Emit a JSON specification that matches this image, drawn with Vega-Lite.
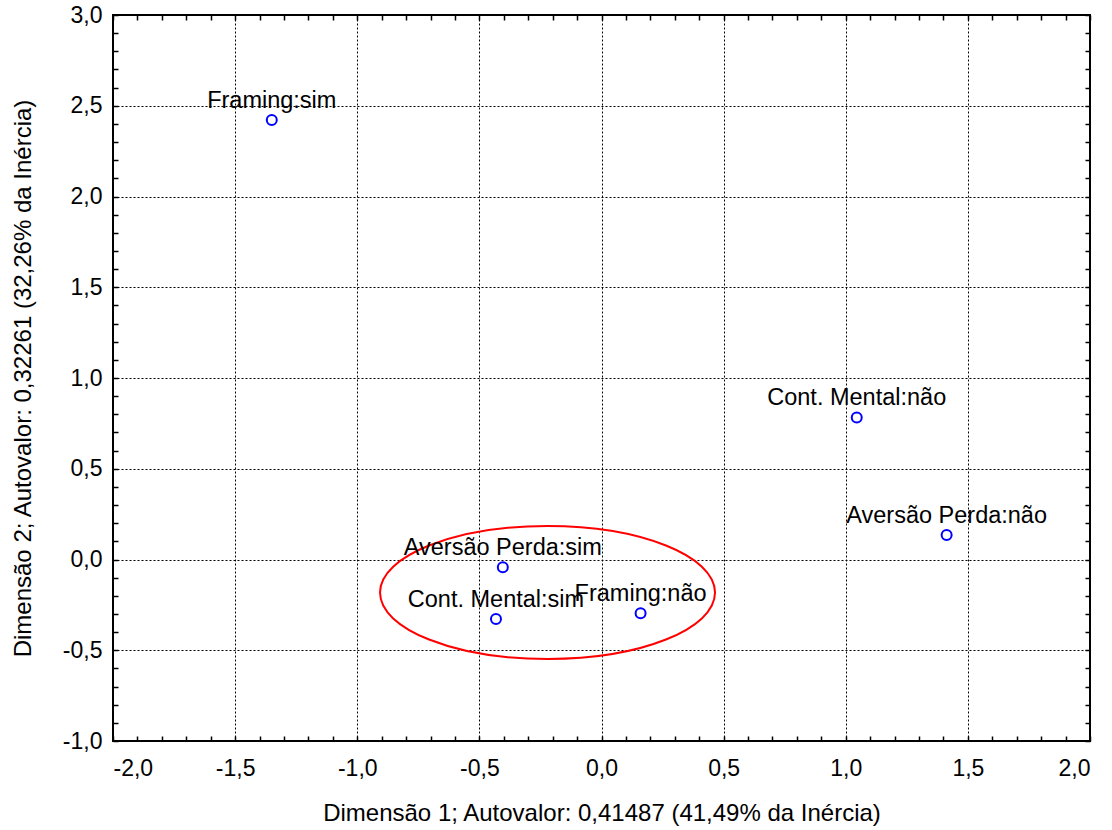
{
  "$schema": "https://vega.github.io/schema/vega-lite/v6.json",
  "width": 977,
  "height": 726,
  "autosize": {"type": "none"},
  "padding": {"left": 113, "top": 15, "right": 22, "bottom": 89},
  "config": {
    "locale": {"number": {"decimal": ",", "thousands": ".", "grouping": [3], "currency": ["", ""], "minus": "-"}},
    "view": {"stroke": "black", "strokeWidth": 2},
    "font": "Liberation Sans",
    "axis": {
      "domain": false,
      "labelFont": "Liberation Sans",
      "labelFontSize": 23,
      "labelColor": "black",
      "titleFont": "Liberation Sans",
      "titleFontSize": 24,
      "titleFontWeight": "normal",
      "titleColor": "black",
      "tickColor": "black",
      "tickWidth": 1.5,
      "gridColor": "black",
      "gridDash": [2, 2],
      "gridWidth": 1
    }
  },
  "datasets": {
    "pts": [
      {"cat": "Framing:sim", "d1": -1.350, "d2": 2.421},
      {"cat": "Cont. Mental:não", "d1": 1.045, "d2": 0.783},
      {"cat": "Aversão Perda:não", "d1": 1.413, "d2": 0.135},
      {"cat": "Aversão Perda:sim", "d1": -0.404, "d2": -0.043},
      {"cat": "Cont. Mental:sim", "d1": -0.432, "d2": -0.328},
      {"cat": "Framing:não", "d1": 0.160, "d2": -0.296}
    ],
    "ell": [{"d1": -0.221, "d2": -0.182}]
  },
  "layer": [
    {
      "data": {"name": "ell"},
      "mark": {"type": "point", "shape": "M-1,0A1,0.397 0 1,1 1,0A1,0.397 0 1,1 -1,0Z", "size": 112225, "filled": false, "stroke": "#ff0000", "strokeWidth": 2, "opacity": 1},
      "encoding": {
        "x": {"field": "d1", "type": "quantitative", "scale": {"domain": [-2, 2], "nice": false, "zero": false},
          "axis": {"orient": "top", "title": null, "labels": false, "grid": false, "tickSize": -5,
            "values": [-2,-1.9,-1.8,-1.7,-1.6,-1.5,-1.4,-1.3,-1.2,-1.1,-1,-0.9,-0.8,-0.7,-0.6,-0.5,-0.4,-0.3,-0.2,-0.1,0,0.1,0.2,0.3,0.4,0.5,0.6,0.7,0.8,0.9,1,1.1,1.2,1.3,1.4,1.5,1.6,1.7,1.8,1.9,2]}},
        "y": {"field": "d2", "type": "quantitative", "scale": {"domain": [-1, 3], "nice": false, "zero": false},
          "axis": {"orient": "right", "title": null, "labels": false, "grid": false, "tickSize": -5,
            "values": [-1,-0.9,-0.8,-0.7,-0.6,-0.5,-0.4,-0.3,-0.2,-0.1,0,0.1,0.2,0.3,0.4,0.5,0.6,0.7,0.8,0.9,1,1.1,1.2,1.3,1.4,1.5,1.6,1.7,1.8,1.9,2,2.1,2.2,2.3,2.4,2.5,2.6,2.7,2.8,2.9,3]}}
      }
    },
    {
      "data": {"name": "pts"},
      "mark": {"type": "point", "shape": "circle", "size": 100, "filled": false, "stroke": "#0000ff", "strokeWidth": 2, "opacity": 1},
      "encoding": {
        "x": {"field": "d1", "type": "quantitative", "scale": {"domain": [-2, 2], "nice": false, "zero": false},
          "axis": {"orient": "bottom", "title": "Dimensão 1; Autovalor: 0,41487 (41,49% da Inércia)", "format": ".1f",
            "labelExpr": "abs(datum.value*2 - round(datum.value*2)) < 0.001 ? datum.label : ''",
            "tickSize": -5, "labelPadding": 21, "titlePadding": 21, "grid": true,
            "gridOpacity": {"condition": {"test": "abs(datum.value*2 - round(datum.value*2)) < 0.001", "value": 1}, "value": 0},
            "values": [-2,-1.9,-1.8,-1.7,-1.6,-1.5,-1.4,-1.3,-1.2,-1.1,-1,-0.9,-0.8,-0.7,-0.6,-0.5,-0.4,-0.3,-0.2,-0.1,0,0.1,0.2,0.3,0.4,0.5,0.6,0.7,0.8,0.9,1,1.1,1.2,1.3,1.4,1.5,1.6,1.7,1.8,1.9,2]}},
        "y": {"field": "d2", "type": "quantitative", "scale": {"domain": [-1, 3], "nice": false, "zero": false},
          "axis": {"orient": "left", "title": "Dimensão 2; Autovalor: 0,32261 (32,26% da Inércia)", "format": ".1f",
            "labelExpr": "abs(datum.value*2 - round(datum.value*2)) < 0.001 ? datum.label : ''",
            "tickSize": -5, "labelPadding": 16, "titlePadding": 27, "grid": true,
            "gridOpacity": {"condition": {"test": "abs(datum.value*2 - round(datum.value*2)) < 0.001", "value": 1}, "value": 0},
            "values": [-1,-0.9,-0.8,-0.7,-0.6,-0.5,-0.4,-0.3,-0.2,-0.1,0,0.1,0.2,0.3,0.4,0.5,0.6,0.7,0.8,0.9,1,1.1,1.2,1.3,1.4,1.5,1.6,1.7,1.8,1.9,2,2.1,2.2,2.3,2.4,2.5,2.6,2.7,2.8,2.9,3]}}
      }
    },
    {
      "data": {"name": "pts"},
      "mark": {"type": "text", "fontSize": 23.5, "font": "Liberation Sans", "align": "center", "baseline": "alphabetic", "dy": -12, "color": "black"},
      "encoding": {
        "x": {"field": "d1", "type": "quantitative", "axis": null},
        "y": {"field": "d2", "type": "quantitative", "axis": null},
        "text": {"field": "cat"}
      }
    }
  ],
  "resolve": {"axis": {"x": "independent", "y": "independent"}}
}
